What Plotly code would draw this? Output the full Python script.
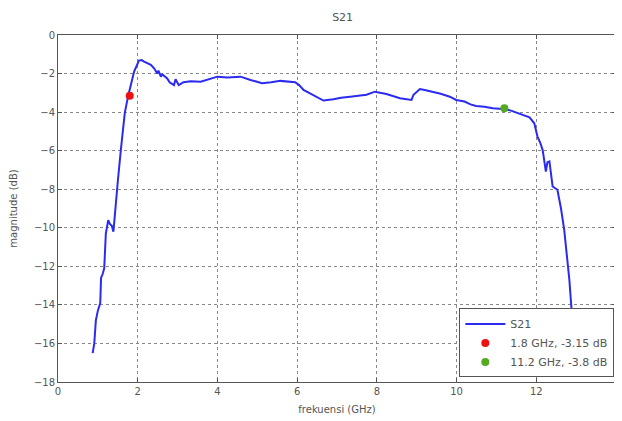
import plotly.graph_objects as go

freq_ghz = [0.87, 0.91, 0.95, 1.00, 1.06, 1.08, 1.12, 1.16, 1.20, 1.26, 1.30, 1.35, 1.39, 1.43, 1.45,
            1.50, 1.575, 1.675, 1.76, 1.83, 1.91, 2.03, 2.10, 2.16, 2.25, 2.33, 2.42, 2.49, 2.52,
            2.58, 2.62, 2.74, 2.80, 2.91, 2.95, 3.03, 3.15, 3.33, 3.58, 3.80, 4.00, 4.25, 4.58,
            4.83, 5.12, 5.35, 5.58, 5.95, 6.05, 6.16, 6.30, 6.45, 6.66, 6.91, 7.10, 7.33, 7.55,
            7.74, 7.95, 8.24, 8.58, 8.75, 8.87, 8.92, 9.00, 9.08, 9.20, 9.41, 9.60, 9.83, 9.99,
            10.20, 10.35, 10.49, 10.70, 10.91, 11.10, 11.24, 11.40, 11.58, 11.83, 11.95, 12.03,
            12.10, 12.16, 12.24, 12.28, 12.33, 12.41, 12.53, 12.62, 12.70, 12.78, 12.83, 12.89,
            12.95]
mag_db = [-16.5, -16.0, -14.8, -14.3, -13.9, -12.6, -12.4, -12.1, -10.3, -9.6, -9.8, -9.9, -10.2, -9.2,
          -8.5, -7.6, -6.0, -4.05, -3.16, -2.5, -1.9, -1.33, -1.30, -1.38, -1.45, -1.55, -1.75, -2.0,
          -1.85, -2.16, -2.05, -2.25, -2.45, -2.6, -2.3, -2.6, -2.45, -2.4, -2.42, -2.3, -2.16, -2.2,
          -2.16, -2.33, -2.5, -2.45, -2.38, -2.45, -2.6, -2.85, -3.0, -3.2, -3.4, -3.33, -3.25, -3.2,
          -3.15, -3.1, -2.94, -3.06, -3.28, -3.32, -3.37, -3.1, -2.94, -2.8, -2.85, -2.94, -3.05,
          -3.2, -3.37, -3.45, -3.6, -3.68, -3.72, -3.8, -3.82, -3.85, -3.95, -4.1, -4.27, -4.58,
          -5.27, -5.6, -5.96, -7.08, -6.6, -6.56, -7.86, -8.03, -9.0, -10.1, -11.5, -12.7, -14.4,
          -15.6]

marker_freq = [1.8, 11.2]
marker_mag = [-3.15, -3.8]
marker_labels = ["1.8 GHz, -3.15 dB", "11.2 GHz, -3.8 dB"]
marker_colors = ["#ee1111", "#55aa22"]

x_ticks = [0, 2, 4, 6, 8, 10, 12, 14]
y_ticks = [0, -2, -4, -6, -8, -10, -12, -14, -16, -18]

FONT = "DejaVu Sans, Liberation Sans, sans-serif"
TXT = "#555"

fig = go.Figure()
fig.add_trace(go.Scatter(x=freq_ghz, y=mag_db, mode="lines", name="S21",
                         line=dict(color="#2b2bf0", width=2)))
for fx, my, lab, col in zip(marker_freq, marker_mag, marker_labels, marker_colors):
    fig.add_trace(go.Scatter(x=[fx], y=[my], mode="markers", name=lab,
                             marker=dict(color=col, size=8)))

axis_common = dict(showline=True, linecolor="#555", linewidth=1, mirror="ticks",
                   ticks="inside", ticklen=4, tickcolor="#555",
                   showgrid=True, gridcolor="#888", griddash="dot", gridwidth=1,
                   zeroline=False, tickfont=dict(size=10, color=TXT, family=FONT))

fig.update_layout(
    width=614, height=413,
    margin=dict(l=49, r=5, t=27, b=39),
    paper_bgcolor="white", plot_bgcolor="white",
    font=dict(family=FONT, size=10, color=TXT),
    title=dict(text="S21", x=0.545, xanchor="center", y=0.978, yanchor="middle",
               font=dict(size=11, color=TXT, family=FONT)),
    xaxis=dict(range=[0, 14], tickvals=x_ticks,
               title=dict(text="frekuensi (GHz)", font=dict(size=10, color=TXT, family=FONT), standoff=9),
               **axis_common),
    yaxis=dict(range=[-18, 0], tickvals=y_ticks,
               title=dict(text="magnitude (dB)", font=dict(size=10, color=TXT, family=FONT), standoff=14),
               **axis_common),
    legend=dict(x=0.997, y=0.013, xanchor="right", yanchor="bottom",
                bgcolor="white", bordercolor="#555", borderwidth=1,
                font=dict(size=11, color=TXT, family=FONT), tracegroupgap=0,
                itemwidth=40),
    showlegend=True,
)

fig.write_html("out.html")
